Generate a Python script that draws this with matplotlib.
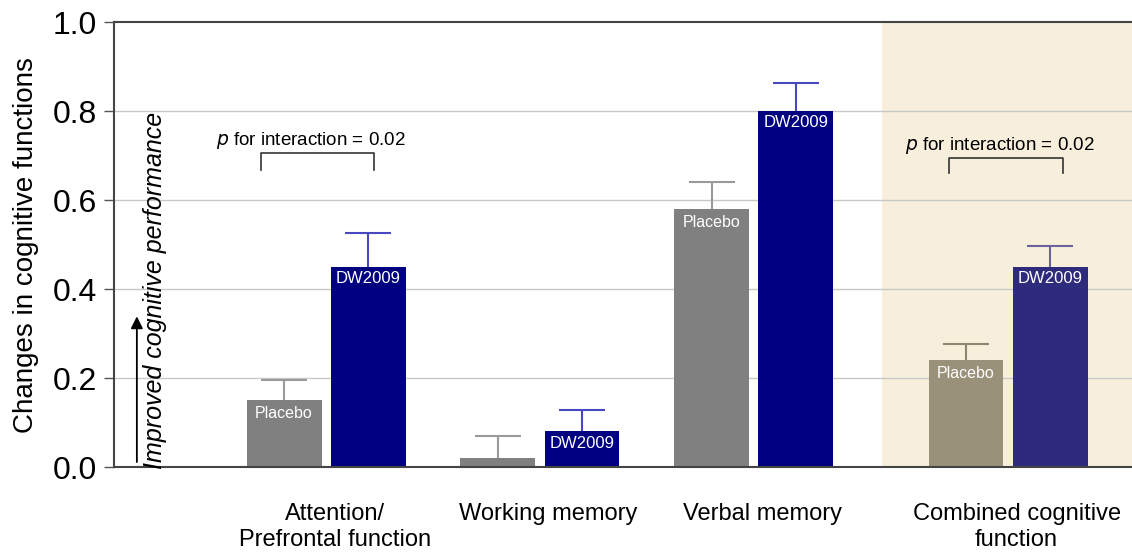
import numpy as np
import matplotlib.pyplot as plt

plt.rcParams['font.family'] = ['Liberation Sans', 'DejaVu Sans']

# data
categories = ['Attention/\nPrefrontal function', 'Working memory', 'Verbal memory',
              'Combined cognitive\nfunction']
group_x = [0, 1, 2, 3.19]
placebo = [0.15, 0.02, 0.58, 0.24]
placebo_err = [0.045, 0.05, 0.06, 0.037]
dw2009 = [0.45, 0.08, 0.80, 0.45]
dw2009_err = [0.077, 0.048, 0.064, 0.047]
show_placebo_label = [True, False, True, True]
p_text = 'for interaction = 0.02'
p_groups = [0, 3]

placebo_col = ['#808080', '#808080', '#808080', '#9a917a']
placebo_ecol = ['#9a9a9a', '#9a9a9a', '#9a9a9a', '#8f866f']
dw_col = ['#000080', '#000080', '#000080', '#2e2a7c']
dw_ecol = ['#4848c0', '#4848c0', '#4848c0', '#6c619c']

fig = plt.figure(figsize=(11.32, 5.54), dpi=100)
ax = fig.add_axes([0.1007, 0.157, 0.8993, 0.803])

w = 0.35
off = 0.197
x = np.array(group_x)


def upper_err(xc, val, err, col):
    # only the upper whisker, no cap at the bar top
    _, caps, _ = ax.errorbar(xc, val, yerr=[[0], [err]], fmt='none', ecolor=col,
                             elinewidth=1.5, capsize=16.5, capthick=1.5, zorder=1.5)
    for c in caps:
        if np.allclose(c.get_ydata(), val):
            c.set_visible(False)


ax.axvspan(2.60, 3.77, color='#f7efdc', zorder=0, lw=0)
for yv in [0.2, 0.4, 0.6, 0.8]:
    ax.axhline(yv, color='#c8c8c8', lw=1, zorder=1)

for i in range(len(x)):
    xp = x[i] - off
    xd = x[i] + off
    ax.bar(xp, placebo[i], width=w, color=placebo_col[i], zorder=2)
    ax.bar(xd, dw2009[i], width=w, color=dw_col[i], zorder=2)
    upper_err(xp, placebo[i], placebo_err[i], placebo_ecol[i])
    upper_err(xd, dw2009[i], dw2009_err[i], dw_ecol[i])
    if show_placebo_label[i]:
        ax.annotate('Placebo', (xp, placebo[i]), xytext=(0, -4), textcoords='offset points',
                    ha='center', va='top', color='white', fontsize=11.5, zorder=3)
    ax.annotate('DW2009', (xd, dw2009[i]), xytext=(0, -3), textcoords='offset points',
                ha='center', va='top', color='white', fontsize=12, zorder=3)

# p for interaction brackets
brackets = [(-0.306, 0.222, 0.667, 0.706, 0.711), (-0.278, 0.257, 0.66, 0.694, 0.699)]
for g, (dx0, dx1, yb, yt, ytxt) in zip(p_groups, brackets):
    x0 = x[g] + dx0
    x1 = x[g] + dx1
    ax.plot([x0, x0, x1, x1], [yb, yt, yt, yb], color='#333333', lw=1.2, zorder=3)
    ax.text((x0 + x1) / 2 - 0.03, ytxt, r'$\it{p}$ ' + p_text, ha='center', va='bottom',
            fontsize=13.5)

# improved performance arrow
ax.annotate('', xy=(-0.886, 0.345), xytext=(-0.886, 0.005),
            arrowprops=dict(arrowstyle='-|>', color='black', lw=1.3, mutation_scale=18))
ax.text(-0.8, -0.005, 'Improved cognitive performance', rotation=90, style='italic',
        ha='center', va='bottom', fontsize=18)

ax.set_xlim(-0.993, 3.77)
ax.set_ylim(0, 1.0)
ax.set_yticks([0, 0.2, 0.4, 0.6, 0.8, 1.0])
ax.set_yticklabels(['0.0', '0.2', '0.4', '0.6', '0.8', '1.0'], fontsize=23)
ax.tick_params(axis='y', length=7, width=1, color='#555555', pad=5)
ax.set_xticks(x + 0.04)
ax.set_xticklabels(categories, fontsize=17, linespacing=1.2)
ax.tick_params(axis='x', length=0, pad=26)
ax.set_ylabel('Changes in cognitive functions', fontsize=20, labelpad=10)

for s in ['left', 'top', 'bottom']:
    ax.spines[s].set_color('#444444')
    ax.spines[s].set_linewidth(1.5)
ax.spines['right'].set_visible(False)

fig.savefig('out.png', dpi=100)
